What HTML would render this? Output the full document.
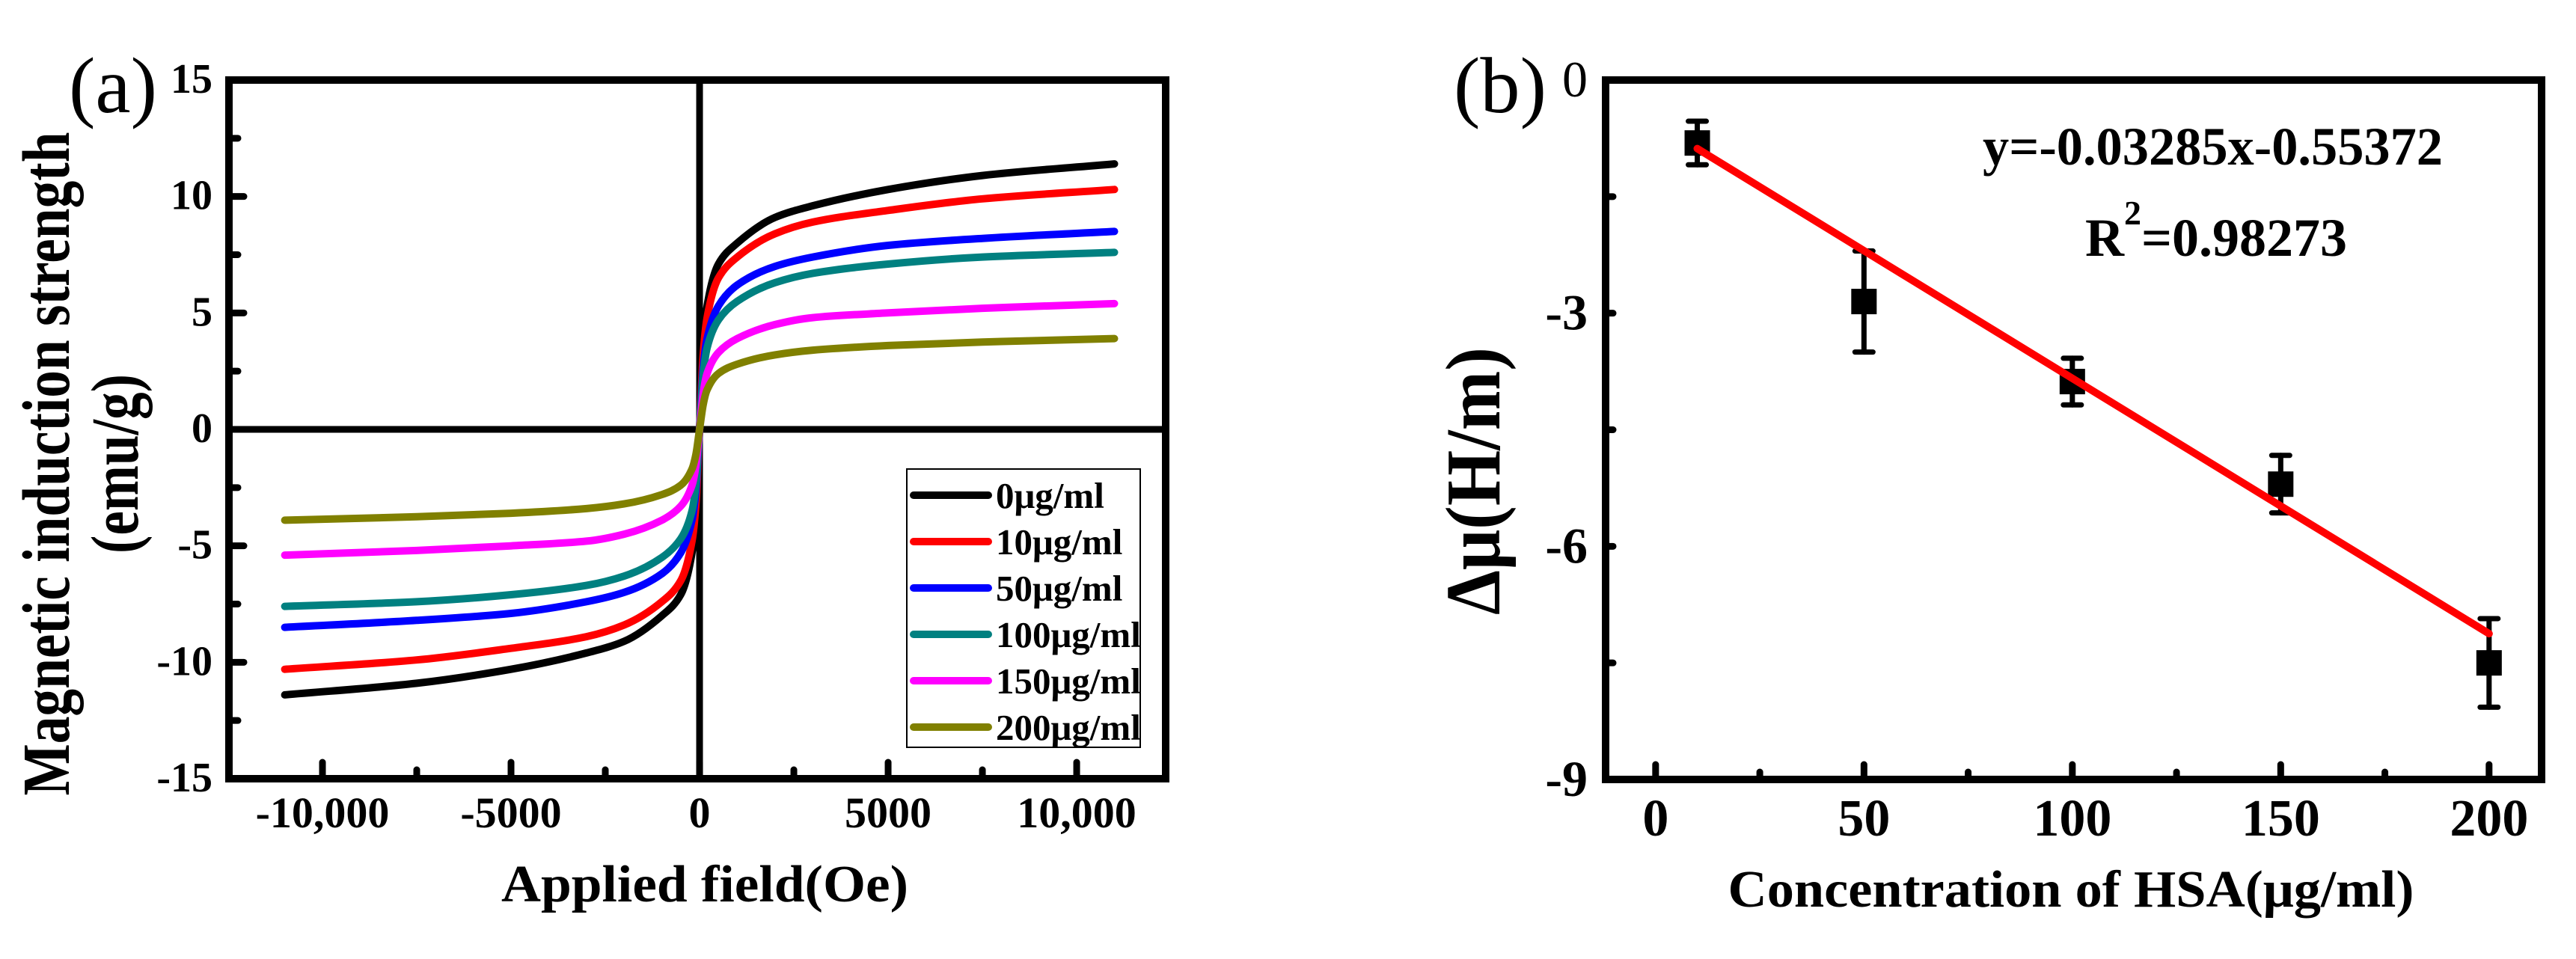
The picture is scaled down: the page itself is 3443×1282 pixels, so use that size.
<!DOCTYPE html>
<html><head><meta charset="utf-8"><style>
html,body{margin:0;padding:0;background:#fff;}
svg{display:block;}
text{font-family:"Liberation Serif","DejaVu Serif",serif;}
</style></head><body>
<svg id="fig" width="3443" height="1282" viewBox="0 0 3443 1282" xmlns="http://www.w3.org/2000/svg">
<rect width="3443" height="1282" fill="#fff"/>
<g id="pa"></g>
<g id="pb"></g>
</svg>
<script>
// ---------- Panel (a) data ----------
const fieldOe = [-11000,-7500,-5000,-3000,-2000,-1000,-500,-200,-100,0,100,200,500,1000,2000,3000,5000,7500,11000];
const m0   = [-11.4,-10.9,-10.3,-9.6,-9.1,-8.0,-7.1,-5.3,-3.7,0,3.7,5.3,7.1,8.0,9.1,9.6,10.3,10.9,11.4];
const m10  = [-10.3,-9.9,-9.4,-8.9,-8.4,-7.4,-6.5,-4.8,-3.3,0,3.3,4.8,6.5,7.4,8.4,8.9,9.4,9.9,10.3];
const m50  = [-8.5,-8.2,-7.9,-7.4,-7.0,-6.2,-5.3,-3.9,-2.7,0,2.7,3.9,5.3,6.2,7.0,7.4,7.9,8.2,8.5];
const m100 = [-7.6,-7.4,-7.1,-6.7,-6.3,-5.5,-4.7,-3.5,-2.4,0,2.4,3.5,4.7,5.5,6.3,6.7,7.1,7.4,7.6];
const m150 = [-5.4,-5.2,-5.0,-4.8,-4.5,-3.9,-3.3,-2.4,-1.6,0,1.6,2.4,3.3,3.9,4.5,4.8,5.0,5.2,5.4];
const m200 = [-3.9,-3.75,-3.6,-3.4,-3.2,-2.8,-2.4,-1.7,-1.1,0,1.1,1.7,2.4,2.8,3.2,3.4,3.6,3.75,3.9];
const seriesLabelsA = ["0μg/ml","10μg/ml","50μg/ml","100μg/ml","150μg/ml","200μg/ml"];
const xTickLabelsA = ["-10,000","-5000","0","5000","10,000"];
const xTickValsA = [-10000,-5000,0,5000,10000];
const yTickValsA = [-15,-10,-5,0,5,10,15];

// ---------- Panel (b) data ----------
const concHSA = [10,50,100,150,200];
const deltaMu = [-0.81,-2.85,-3.88,-5.2,-7.5];
const deltaErr = [0.28,0.65,0.3,0.37,0.57];
const fitSlope = -0.03285;
const fitIntercept = -0.55372;
const xTickValsB = [0,50,100,150,200];
const yTickValsB = [0,-3,-6,-9];

const NS = "http://www.w3.org/2000/svg";
function mk(parent, tag, attrs, txt){
  const e = document.createElementNS(NS, tag);
  for (const k in attrs) e.setAttribute(k, attrs[k]);
  if (txt !== undefined) e.textContent = txt;
  parent.appendChild(e);
  return e;
}
// monotone cubic (Fritsch-Carlson) in pixel space
function smoothPath(pts){
  const n = pts.length;
  const dx=[], dy=[], s=[];
  for (let i=0;i<n-1;i++){ dx.push(pts[i+1][0]-pts[i][0]); dy.push(pts[i+1][1]-pts[i][1]); s.push(dy[i]/dx[i]); }
  const m = new Array(n);
  m[0]=s[0]; m[n-1]=s[n-2];
  for (let i=1;i<n-1;i++){
    if (s[i-1]*s[i]<=0) m[i]=0;
    else { const w1=2*dx[i]+dx[i-1], w2=dx[i]+2*dx[i-1]; m[i]=(w1+w2)/(w1/s[i-1]+w2/s[i]); }
  }
  let d = "M" + pts[0][0].toFixed(1) + "," + pts[0][1].toFixed(1);
  for (let i=0;i<n-1;i++){
    const h = dx[i]/3;
    d += " C"+(pts[i][0]+h).toFixed(1)+","+(pts[i][1]+m[i]*h).toFixed(1)+" "+
         (pts[i+1][0]-h).toFixed(1)+","+(pts[i+1][1]-m[i+1]*h).toFixed(1)+" "+
         pts[i+1][0].toFixed(1)+","+pts[i+1][1].toFixed(1);
  }
  return d;
}

// ================= Panel (a) =================
(function(){
  const g = document.getElementById('pa');
  const L=306,R=1558,T=107,B=1041;
  const xMin=-12480,xMax=12360,yMin=-15,yMax=15;
  const X = v => L + (v-xMin)/(xMax-xMin)*(R-L);
  const Y = v => B - (v-yMin)/(yMax-yMin)*(B-T);

  let e = mk(g,'line',{x1:X(0),y1:T,x2:X(0),y2:B,stroke:'#000','stroke-width':9});
   
  e = mk(g,'line',{x1:L,y1:Y(0),x2:R,y2:Y(0),stroke:'#000','stroke-width':9});
   

  const series = [m0,m10,m50,m100,m150,m200];
  const colors = ['#000000','#ff0000','#0000ff','#008080','#ff00ff','#808000'];
  series.forEach((s,i)=>{
    const pts = fieldOe.map((x,j)=>[X(x),Y(s[j])]);
    const p = mk(g,'path',{d:smoothPath(pts),fill:'none',stroke:colors[i],'stroke-width':10,'stroke-linecap':'round','stroke-linejoin':'round'});
    
    
  });

  for (let v=-10000; v<=10000; v+=2500){
    const major = v%5000===0;
    const t = mk(g,'line',{x1:X(v),y1:B,x2:X(v),y2:B-(major?22:12),stroke:'#000','stroke-width':9,'stroke-linecap':'round'});
     
  }
  for (let v=-15; v<=15; v+=2.5){
    const major = v%5===0;
    const t = mk(g,'line',{x1:L,y1:Y(v),x2:L+(major?20:12),y2:Y(v),stroke:'#000','stroke-width':9,'stroke-linecap':'round'});
     
  }
  e = mk(g,'rect',{x:L,y:T,width:R-L,height:B-T,fill:'none',stroke:'#000','stroke-width':10});
   

  xTickValsA.forEach((v,i)=>{
    const t = mk(g,'text',{x:X(v),y:1106,'text-anchor':'middle','font-size':58,'font-weight':'bold'},xTickLabelsA[i]);
     
  });
  yTickValsA.forEach(v=>{
    const t = mk(g,'text',{x:284,y:Y(v)+17,'text-anchor':'end','font-size':56,'font-weight':'bold'},String(v));
     
  });

  e = mk(g,'text',{x:942,y:1205,'text-anchor':'middle','font-size':70,'font-weight':'bold',textLength:544,lengthAdjust:'spacingAndGlyphs'},'Applied field(Oe)');
   
  e = mk(g,'text',{x:0,y:0,'text-anchor':'middle','font-size':90,'font-weight':'bold',textLength:887,lengthAdjust:'spacingAndGlyphs',transform:'translate(92,620) rotate(-90)'},'Magnetic induction strength');
   
  e = mk(g,'text',{x:0,y:0,'text-anchor':'middle','font-size':90,'font-weight':'bold',textLength:240,lengthAdjust:'spacingAndGlyphs',transform:'translate(184,620) rotate(-90)'},'(emu/g)');
   
  e = mk(g,'text',{x:92,y:150,'font-size':106,textLength:118,lengthAdjust:'spacingAndGlyphs'},'(a)');
   

  const lg = mk(g,'g',{});
   
  e = mk(lg,'rect',{x:1212,y:627,width:312,height:372,fill:'#fff',stroke:'#000','stroke-width':2});
   
  seriesLabelsA.forEach((lab,i)=>{
    const yy = 662 + i*62;
    const ent = mk(lg,'g',{});
     
    mk(ent,'line',{x1:1221,y1:yy,x2:1321,y2:yy,stroke:colors[i],'stroke-width':10,'stroke-linecap':'round'});
    mk(ent,'text',{x:1331,y:yy+17,'font-size':49,'font-weight':'bold'},lab);
  });
})();

// ================= Panel (b) =================
(function(){
  const g = document.getElementById('pb');
  const L=2146,R=3397,T=107,B=1042;
  const xMin=-12,xMax=212.6,yMin=-9,yMax=0;
  const X = v => L + (v-xMin)/(xMax-xMin)*(R-L);
  const Y = v => B - (v-yMin)/(yMax-yMin)*(B-T);

  for (let v=0; v<=200; v+=25){
    const major = v%50===0;
    const t = mk(g,'line',{x1:X(v),y1:B,x2:X(v),y2:B-(major?20:10),stroke:'#000','stroke-width':9,'stroke-linecap':'round'});
     
  }
  for (let v=0; v>=-9; v-=1.5){
    const t = mk(g,'line',{x1:L,y1:Y(v),x2:L+10,y2:Y(v),stroke:'#000','stroke-width':9,'stroke-linecap':'round'});
     
  }
  let e = mk(g,'rect',{x:L,y:T,width:R-L,height:B-T,fill:'none',stroke:'#000','stroke-width':10});
   

  concHSA.forEach((c,i)=>{
    const cx = X(c), top = Y(deltaMu[i]+deltaErr[i]), bot = Y(deltaMu[i]-deltaErr[i]);
    const eb = mk(g,'g',{stroke:'#000','stroke-width':7,'stroke-linecap':'round'});
     
    mk(eb,'line',{x1:cx,y1:top,x2:cx,y2:bot});
    mk(eb,'line',{x1:cx-12,y1:top,x2:cx+12,y2:top});
    mk(eb,'line',{x1:cx-12,y1:bot,x2:cx+12,y2:bot});
    const m = mk(g,'rect',{x:cx-17,y:Y(deltaMu[i])-17,width:34,height:34,fill:'#000'});
     
  });

  const x0 = concHSA[0], x1 = concHSA[concHSA.length-1];
  e = mk(g,'line',{x1:X(x0),y1:Y(fitSlope*x0+fitIntercept),x2:X(x1),y2:Y(fitSlope*x1+fitIntercept),stroke:'#ff0000','stroke-width':10,'stroke-linecap':'round'});
   

  xTickValsB.forEach(v=>{
    const t = mk(g,'text',{x:X(v),y:1117,'text-anchor':'middle','font-size':70,'font-weight':'bold'},String(v));
     
  });
  yTickValsB.forEach(v=>{
    const t = mk(g,'text',{x:2122,y:Y(v)+22,'text-anchor':'end','font-size':68,'font-weight':(v===0?'normal':'bold')},String(v));
     
  });

  e = mk(g,'text',{x:2650,y:220,'font-size':72,'font-weight':'bold',textLength:615,lengthAdjust:'spacingAndGlyphs'},'y=-0.03285x-0.55372');
   
  e = mk(g,'text',{x:2787,y:342,'font-size':72,'font-weight':'bold'});
   
  mk(e,'tspan',{},'R');
  mk(e,'tspan',{'font-size':46,dy:-42},'2');
  mk(e,'tspan',{dy:42},'=0.98273');

  e = mk(g,'text',{x:2768,y:1212,'text-anchor':'middle','font-size':70,'font-weight':'bold',textLength:917,lengthAdjust:'spacingAndGlyphs'},'Concentration of HSA(μg/ml)');
   
  e = mk(g,'text',{x:0,y:0,'text-anchor':'middle','font-size':104,'font-weight':'bold',textLength:358,lengthAdjust:'spacingAndGlyphs',transform:'translate(2004,643) rotate(-90)'},'Δμ(H/m)');
   
  e = mk(g,'text',{x:1943,y:150,'font-size':106,textLength:124,lengthAdjust:'spacingAndGlyphs'},'(b)');
   
})();
</script>
</body></html>
